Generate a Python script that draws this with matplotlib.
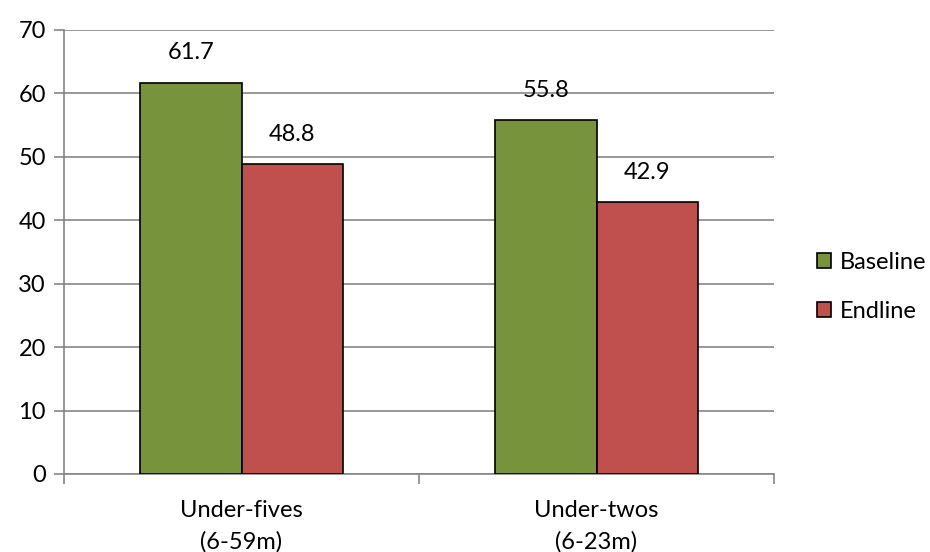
import matplotlib
matplotlib.use("Agg")
import matplotlib.pyplot as plt
import numpy as np
from matplotlib.patches import Patch

categories = ["Under-fives\n(6-59m)", "Under-twos\n(6-23m)"]
series_names = ["Baseline", "Endline"]
baseline = [61.7, 55.8]
endline = [48.8, 42.9]
colors = ["#77933C", "#C0504D"]

plt.rcParams['font.family'] = ['Lato', 'DejaVu Sans']
FS = 17

fig = plt.figure(figsize=(9.3, 5.52), dpi=100)
ax = fig.add_axes([64/930, 1-474/552, 710/930, 444/552])

x = np.arange(len(categories))
w = 0.285
grid_c = "#868686"
for i, (vals, c) in enumerate(zip([baseline, endline], colors)):
    pos = x + (i - 0.5) * w
    ax.bar(pos, vals, w, color=c, edgecolor="black", linewidth=1.2, zorder=3, label=series_names[i])
    for p, v in zip(pos, vals):
        ax.text(p, v + 4.7, f"{v:.1f}", ha="center", va="center", fontsize=FS, color="black")

ax.set_xlim(-0.5, 1.5)
ax.set_ylim(0, 70)
ax.set_yticks(range(0, 71, 10))
ax.yaxis.grid(True, color=grid_c, linewidth=1.2, zorder=0)
ax.set_axisbelow(True)
for s in ["top", "right"]:
    ax.spines[s].set_visible(False)
ax.spines["left"].set_color(grid_c)
ax.spines["bottom"].set_color(grid_c)
ax.spines["left"].set_linewidth(1.2)
ax.spines["bottom"].set_linewidth(1.2)
ax.tick_params(axis="y", length=7, color=grid_c, width=1.2, labelsize=FS, pad=6)
ax.set_xticks([-0.5, 0.5, 1.5])
ax.set_xticklabels([])
ax.tick_params(axis="x", length=7, color=grid_c, width=1.2)
for xi, lab in zip(x, categories):
    ax.text(xi, -4.1, lab, ha="center", va="top", fontsize=FS, linespacing=1.55,
            transform=ax.transData)

handles = [Patch(facecolor=c, edgecolor="black", linewidth=1.2) for c in colors]
fig.legend(handles, series_names, loc="center left", bbox_to_anchor=(817/930, 1-287/552),
           frameon=False, fontsize=FS, handlelength=0.6, handleheight=0.6,
           handletextpad=0.35, labelspacing=1.2, borderaxespad=0, borderpad=0)

fig.savefig("out.png", dpi=100)
